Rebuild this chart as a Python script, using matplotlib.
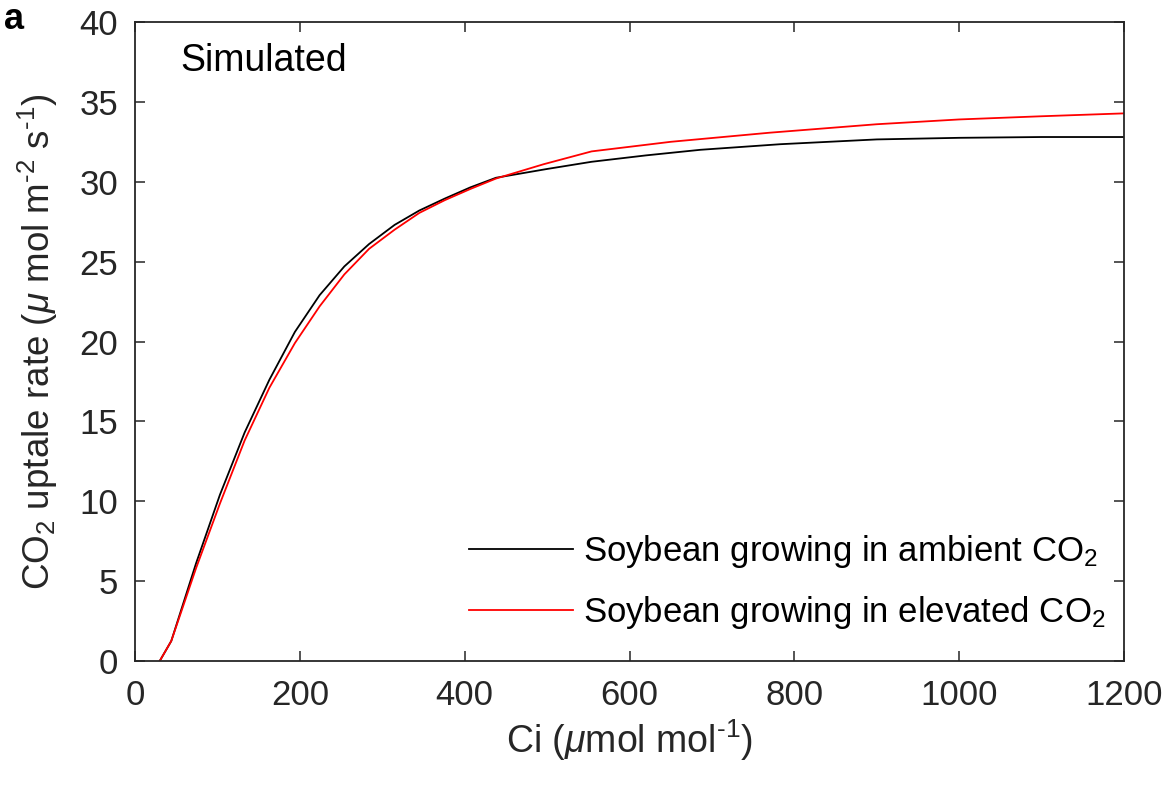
import matplotlib
matplotlib.use("Agg")
import matplotlib.pyplot as plt

plt.rcParams['font.family'] = ['Liberation Sans', 'DejaVu Sans']
plt.rcParams['mathtext.fontset'] = 'custom'
plt.rcParams['mathtext.rm'] = 'Liberation Sans'
plt.rcParams['mathtext.it'] = 'Liberation Sans:italic'
plt.rcParams['mathtext.default'] = 'regular'

# Simulated A/Ci response curves
ci_ambient = [30, 44, 74, 103, 133, 163, 194, 224, 254, 284, 315, 345, 376, 407,
              438, 500, 554, 620, 686, 783, 900, 1000, 1100, 1200]
a_ambient = [0, 1.25, 6.1, 10.4, 14.3, 17.6, 20.6, 22.9, 24.7, 26.1, 27.3, 28.2,
             28.95, 29.65, 30.25, 30.8, 31.25, 31.65, 32.0, 32.35, 32.65, 32.75,
             32.8, 32.8]

ci_elevated = [30, 44, 74, 103, 133, 163, 194, 224, 254, 284, 315, 345, 376, 407,
               438, 496, 554, 650, 770, 900, 1000, 1100, 1200]
a_elevated = [0, 1.25, 5.8, 9.85, 13.8, 17.1, 19.9, 22.2, 24.2, 25.8, 27.0, 28.05,
              28.85, 29.55, 30.2, 31.1, 31.9, 32.5, 33.07, 33.6, 33.9, 34.1, 34.28]

series_labels = ['Soybean growing in ambient CO$_2$',
                 'Soybean growing in elevated CO$_2$']
x_ticks = [0, 200, 400, 600, 800, 1000, 1200]
y_ticks = [0, 5, 10, 15, 20, 25, 30, 35, 40]

HY = '\u2010'  # typographic hyphen for the exponents

W, H = 1167, 786
fig = plt.figure(figsize=(W / 100, H / 100), dpi=100)
ax = fig.add_axes([135 / W, 1 - 661 / H, (1124 - 135) / W, (661 - 22) / H])

ax.plot(ci_ambient, a_ambient, color='black', lw=1.3, label=series_labels[0])
ax.plot(ci_elevated, a_elevated, color='#ff0000', lw=1.3, label=series_labels[1])

ax.set_xlim(0, 1200)
ax.set_ylim(0, 40)
ax.set_xticks(x_ticks)
ax.set_yticks(y_ticks)

dark = '#262626'
for sp in ax.spines.values():
    sp.set_color(dark)
    sp.set_linewidth(1.3)
ax.tick_params(direction='in', length=7, width=1.1, colors=dark,
               labelsize=25, top=True, right=True)
ax.tick_params(axis='x', pad=13)
ax.tick_params(axis='y', pad=12)
for lab in ax.get_xticklabels() + ax.get_yticklabels():
    lab.set_color(dark)

ax.set_xlabel('Ci ($\\mathit{\\mu}$mol mol$^{' + HY + '1}$)', fontsize=27,
              color=dark, labelpad=4)
ax.set_ylabel('CO$_2$ uptale rate ($\\mathit{\\mu}$ mol m$^{' + HY + '2}$ s$^{'
              + HY + '1}$)', fontsize=26.5, color=dark, labelpad=14)

ax.text(0.046, (661 - 71) / 639, 'Simulated', transform=ax.transAxes,
        fontsize=27, color='black', ha='left', va='baseline')

ax.legend(loc='upper left', bbox_to_anchor=(0.3377, 0.2), frameon=False,
          fontsize=25, handlelength=3.0, handletextpad=0.28, labelspacing=0.68,
          borderpad=0, borderaxespad=0)

fig.text(0.003, 0.997, 'a', fontsize=26, fontweight='bold',
         ha='left', va='top')

fig.savefig('out.png', dpi=100)
